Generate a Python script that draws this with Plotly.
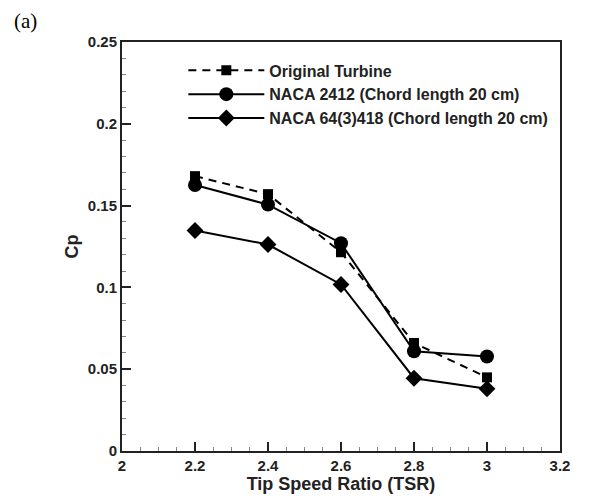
import plotly.graph_objects as go

tsr = [2.2, 2.4, 2.6, 2.8, 3.0]
original = [0.168, 0.157, 0.1215, 0.066, 0.045]
naca2412 = [0.1626, 0.1506, 0.127, 0.061, 0.0578]
naca64 = [0.1348, 0.1262, 0.1018, 0.0445, 0.038]

names = ["<b>Original Turbine</b>", "<b>NACA 2412 (Chord length 20 cm)</b>", "<b>NACA 64(3)418 (Chord length 20 cm)</b>"]

fig = go.Figure()
fig.add_trace(go.Scatter(x=tsr, y=original, name=names[0], mode="lines+markers",
                         line=dict(color="black", width=2, dash="8px,6px"),
                         marker=dict(symbol="square", size=10, color="black")))
fig.add_trace(go.Scatter(x=tsr, y=naca2412, name=names[1], mode="lines+markers",
                         line=dict(color="black", width=2),
                         marker=dict(symbol="circle", size=14, color="black")))
fig.add_trace(go.Scatter(x=tsr, y=naca64, name=names[2], mode="lines+markers",
                         line=dict(color="black", width=2),
                         marker=dict(symbol="diamond", size=13, color="black")))

axfont = dict(family="Liberation Sans, Arial", size=15, color="#222")
fig.update_layout(
    width=594, height=498,
    margin=dict(l=122, r=34, t=42, b=47),
    plot_bgcolor="white", paper_bgcolor="white",
    font=dict(family="Liberation Sans, Arial", color="#222"),
    showlegend=True,
    legend=dict(x=0.14, y=0.972, xanchor="left", yanchor="top",
                bgcolor="rgba(0,0,0,0)", itemwidth=76, tracegroupgap=0,
                font=dict(family="Liberation Sans, Arial", size=16, color="#222"),
                itemsizing="trace"),
    xaxis=dict(range=[2, 3.2], tickvals=[2, 2.2, 2.4, 2.6, 2.8, 3, 3.2],
               ticktext=["<b>2</b>", "<b>2.2</b>", "<b>2.4</b>", "<b>2.6</b>", "<b>2.8</b>", "<b>3</b>", "<b>3.2</b>"],
               ticks="inside", ticklen=9, tickwidth=2, tickcolor="#222",
               minor=dict(dtick=0.05, ticks="inside", ticklen=4, tickwidth=1, tickcolor="#888", showgrid=False),
               showline=True, linewidth=2, linecolor="#222", mirror=True, showgrid=False, zeroline=False,
               tickfont=axfont, automargin=False,
               title=dict(text="<b>Tip Speed Ratio (TSR)</b>", font=dict(size=18, family="Liberation Sans, Arial", color="#222"), standoff=0)),
    yaxis=dict(range=[0, 0.25], tickvals=[0, 0.05, 0.1, 0.15, 0.2, 0.25],
               ticktext=["<b>0</b>", "<b>0.05</b>", "<b>0.1</b>", "<b>0.15</b>", "<b>0.2</b>", "<b>0.25</b>"],
               ticks="inside", ticklen=9, tickwidth=2, tickcolor="#222",
               minor=dict(dtick=0.01, ticks="inside", ticklen=4, tickwidth=1, tickcolor="#888", showgrid=False),
               showline=True, linewidth=2, linecolor="#222", mirror=True, showgrid=False, zeroline=False,
               tickfont=axfont, automargin=False,
               title=dict(text="<b>Cp</b>", font=dict(size=18, family="Liberation Sans, Arial", color="#222"), standoff=4)),
)
fig.add_annotation(text="(a)", xref="paper", yref="paper", x=-0.251, y=1.085,
                   xanchor="left", yanchor="top", showarrow=False,
                   font=dict(family="Liberation Serif, Times New Roman", size=21, color="black"))
fig.write_html("out.html")
